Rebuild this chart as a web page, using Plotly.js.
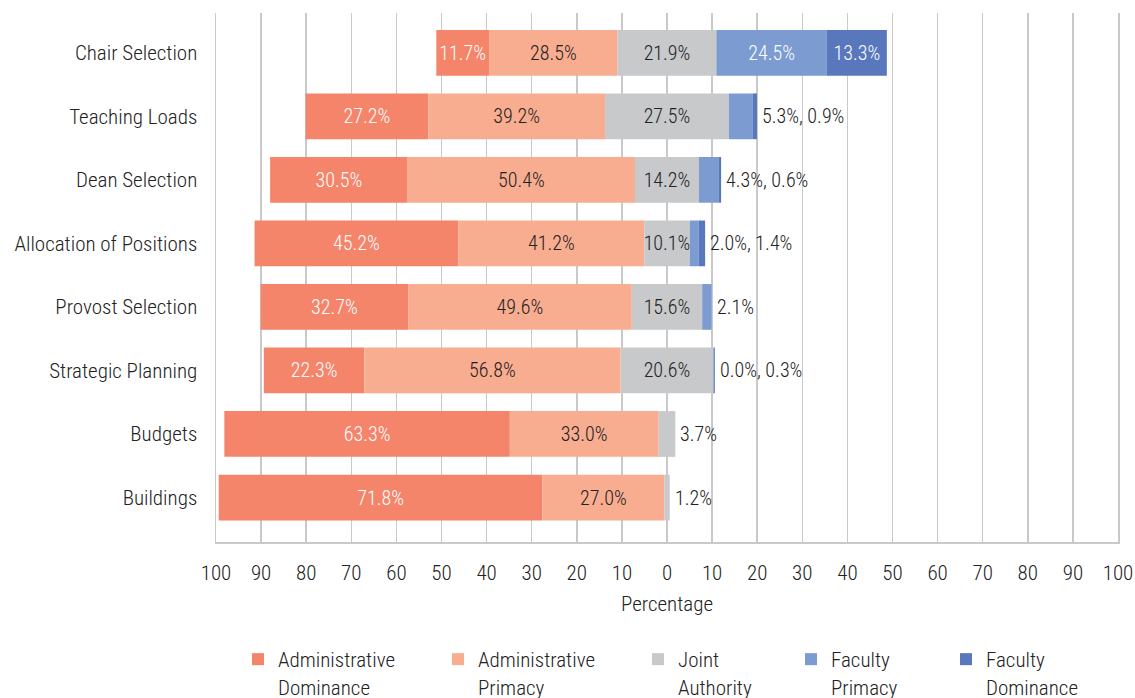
<!DOCTYPE html>
<html>
<head>
<meta charset="utf-8">
<script src="https://cdn.plot.ly/plotly-3.0.1.min.js"></script>
<style>
  html, body { margin: 0; padding: 0; background: #fff; }
  #chart { width: 1135px; height: 698px; }
</style>
</head>
<body>
<div id="chart"></div>
<script>
const categories = ['Chair Selection', 'Teaching Loads', 'Dean Selection', 'Allocation of Positions',
  'Provost Selection', 'Strategic Planning', 'Budgets', 'Buildings'];
const seriesNames = ['Administrative<br>Dominance', 'Administrative<br>Primacy', 'Joint<br>Authority',
  'Faculty<br>Primacy', 'Faculty<br>Dominance'];
const adminDominance = [11.7, 27.2, 30.5, 45.2, 32.7, 22.3, 63.3, 71.8];
const adminPrimacy = [28.5, 39.2, 50.4, 41.2, 49.6, 56.8, 33.0, 27.0];
const jointAuthority = [21.9, 27.5, 14.2, 10.1, 15.6, 20.6, 3.7, 1.2];
const facultyPrimacy = [24.5, 5.3, 4.3, 2.0, 2.1, 0.0, null, null];
const facultyDominance = [13.3, 0.9, 0.6, 1.4, null, 0.3, null, null];
const tickLabels = ['100', '90', '80', '70', '60', '50', '40', '30', '20', '10', '0',
  '10', '20', '30', '40', '50', '60', '70', '80', '90', '100'];

const colors = ['#F4846A', '#F8AD90', '#C8C9CB', '#7B9BD1', '#5877BC'];
const textColors = ['#ffffff', '#222222', '#222222', '#ffffff', '#ffffff'];
const legendLeftPx = [238, 438, 638, 791, 946];
const FONT = '"Roboto Condensed", "Liberation Sans Narrow", "Arial Narrow", "DejaVu Sans Condensed", sans-serif';
const W = 300;
const INSIDE_MIN = 7;
const PLOT_L = 216, PLOT_W = 902;

const v = a => (a == null ? 0 : a);
const series = [adminDominance, adminPrimacy, jointAuthority, facultyPrimacy, facultyDominance];

// bases: admin to the left of the half joint authority, faculty to the right
const bases = [
  categories.map((c, i) => -(adminDominance[i] + adminPrimacy[i] + jointAuthority[i] / 2)),
  categories.map((c, i) => -(adminPrimacy[i] + jointAuthority[i] / 2)),
  categories.map((c, i) => -jointAuthority[i] / 2),
  categories.map((c, i) => jointAuthority[i] / 2),
  categories.map((c, i) => jointAuthority[i] / 2 + v(facultyPrimacy[i]))
];

const legendId = s => (s === 0 ? 'legend' : 'legend' + (s + 1));

const traces = series.map((vals, s) => ({
  type: 'bar',
  orientation: 'h',
  name: seriesNames[s],
  legend: legendId(s),
  y: categories,
  x: vals.map(v),
  base: bases[s],
  width: 0.72,
  marker: { color: colors[s], line: { width: 0 } },
  text: vals.map(val => (val != null && val >= INSIDE_MIN ? val.toFixed(1) + '%' : '')),
  textposition: 'inside',
  insidetextanchor: 'middle',
  constraintext: 'none',
  textangle: 0,
  textfont: { family: FONT, size: 20, weight: W, color: textColors[s] },
  cliponaxis: false,
  hoverinfo: 'skip'
}));

// outside labels for small segments
const annotations = [];
categories.forEach((c, i) => {
  const small = [];
  series.forEach(vals => {
    const val = vals[i];
    if (val != null && val < INSIDE_MIN) small.push(val.toFixed(1) + '%');
  });
  if (small.length) {
    const end = jointAuthority[i] / 2 + v(facultyPrimacy[i]) + v(facultyDominance[i]);
    annotations.push({
      x: end, y: c, xref: 'x', yref: 'y', text: small.join(', '),
      showarrow: false, xanchor: 'left', xshift: 3,
      font: { family: FONT, size: 20, weight: W, color: '#222222' }
    });
  }
});

const tickValues = tickLabels.map((t, k) => -100 + 10 * k);

const layout = {
  width: 1135, height: 698,
  margin: { l: 216, r: 17, t: 13, b: 156 },
  paper_bgcolor: '#ffffff', plot_bgcolor: '#ffffff',
  barmode: 'overlay',
  showlegend: true,
  font: { family: FONT, size: 21, weight: W, color: '#222222' },
  xaxis: {
    range: [-100, 100],
    tickvals: tickValues, ticktext: tickLabels,
    showgrid: true, gridcolor: '#c9c9c9', gridwidth: 1.5,
    zeroline: false,
    showline: true, linecolor: '#c9c9c9', linewidth: 2,
    ticks: '', ticklabelstandoff: 11,
    tickfont: { family: FONT, size: 21, weight: W, color: '#222222' },
    title: { text: 'Percentage', font: { family: FONT, size: 21, weight: W, color: '#222222' }, standoff: 12 },
    automargin: false,
    fixedrange: true
  },
  yaxis: {
    type: 'category',
    categoryorder: 'array', categoryarray: categories,
    range: [7.70, -0.626],
    showgrid: false, zeroline: false,
    showline: true, mirror: true, linecolor: '#c9c9c9', linewidth: 1.5,
    ticks: '', ticklabelstandoff: 13,
    tickfont: { family: FONT, size: 21, weight: W, color: '#222222' },
    automargin: false,
    fixedrange: true
  },
  annotations: annotations
};

legendLeftPx.forEach((px, s) => {
  layout[legendId(s)] = {
    orientation: 'v',
    xref: 'paper', yref: 'container',
    x: (px - PLOT_L) / PLOT_W, xanchor: 'left',
    y: (698 - 639) / 698, yanchor: 'top',
    valign: 'top',
    bgcolor: 'rgba(0,0,0,0)',
    font: { family: FONT, size: 21, weight: W, color: '#222222' },
    itemclick: false, itemdoubleclick: false
  };
});

Plotly.newPlot('chart', traces, layout, { displayModeBar: false, staticPlot: true });
</script>
</body>
</html>
